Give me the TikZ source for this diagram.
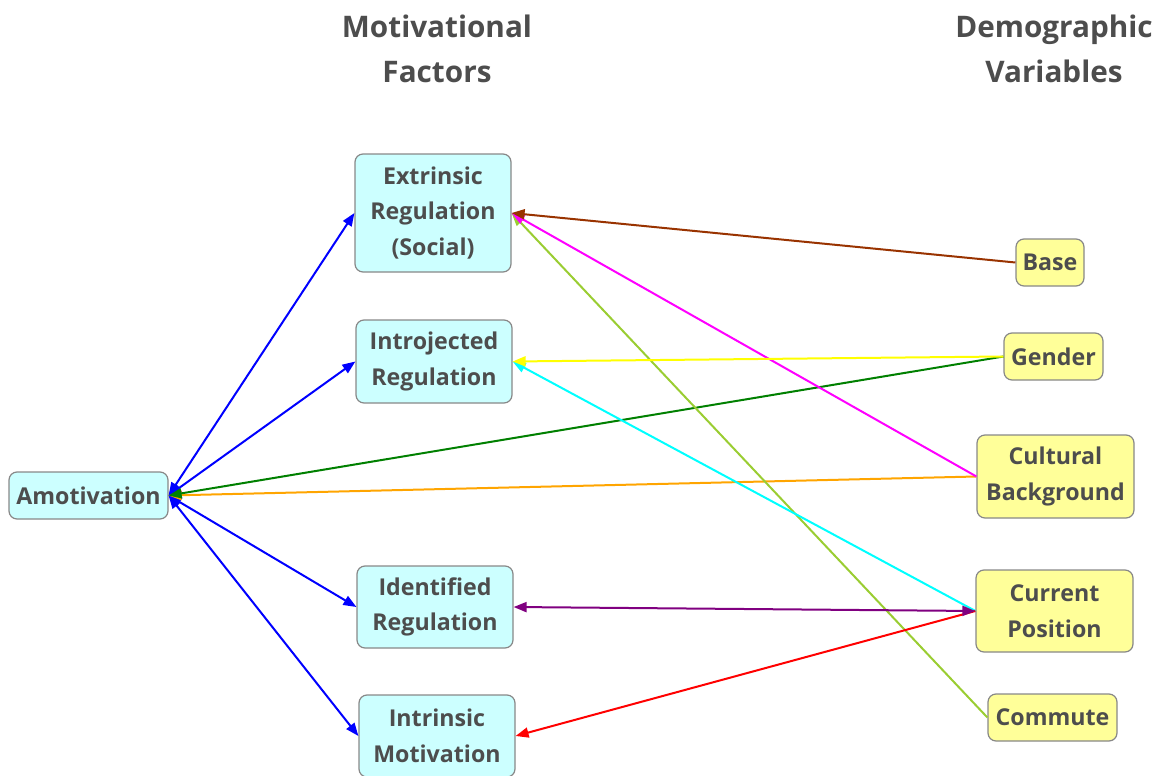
\documentclass[tikz,border=0pt]{standalone}
\usepackage{fontspec}
\setmainfont{Open Sans}
\usetikzlibrary{arrows.meta}
\definecolor{txt}{HTML}{4D4D4D}
\definecolor{bordergray}{HTML}{888888}
\definecolor{cyanfill}{HTML}{CCFFFF}
\definecolor{yellowfill}{HTML}{FFFF99}
\definecolor{brownline}{HTML}{993300}
\definecolor{orangeline}{HTML}{FFA500}
\definecolor{ygline}{HTML}{9ACD32}
\definecolor{greenline}{HTML}{008000}
\definecolor{purpleline}{HTML}{800080}
\definecolor{magline}{HTML}{FF00FF}
\definecolor{cyanline}{HTML}{00FFFF}
\definecolor{yelline}{HTML}{FFFF00}
\definecolor{blueline}{HTML}{0000FF}
\definecolor{redline}{HTML}{FF0000}
\begin{document}
\begin{tikzpicture}[x=1pt,y=-1pt,
  box/.style={draw=bordergray, line width=1.2pt, rounded corners=8pt, align=center,
    font=\fontsize{23.2}{35.5}\selectfont\bfseries, text=txt, inner sep=0pt},
  mf/.style={box, fill=cyanfill},
  dv/.style={box, fill=yellowfill},
  header/.style={align=center, font=\fontsize{29.7}{44.5}\selectfont\bfseries, text=txt, inner sep=0pt},
  link/.style={line width=2pt, -{Triangle[length=13pt,width=10pt]}},
  blink/.style={line width=2pt, {Triangle[length=13pt,width=10pt]}-{Triangle[length=13pt,width=10pt]}}]
\useasboundingbox (0,0) rectangle (1163,776);
% headers
\node[header] (hmf) at (437,49) {Motivational\\Factors};
\node[header] (hdv) at (1054,49) {Demographic\\Variables};
% motivational factors
\node[mf, minimum width=159pt, minimum height=47pt] (amo) at (88.5,495.5) {Amotivation};
\node[mf, minimum width=156pt, minimum height=118pt] (ext) at (433,213) {Extrinsic\\Regulation\\(Social)};
\node[mf, minimum width=156pt, minimum height=83pt] (intro) at (434,361.5) {Introjected\\Regulation};
\node[mf, minimum width=156pt, minimum height=82pt] (ident) at (435,607) {Identified\\Regulation};
\node[mf, minimum width=156pt, minimum height=82pt] (intr) at (437,736) {Intrinsic\\Motivation};
% demographic variables
\node[dv, minimum width=68pt, minimum height=47pt] (base) at (1050,262.5) {Base};
\node[dv, minimum width=99pt, minimum height=47pt] (gend) at (1053.5,356.5) {Gender};
\node[dv, minimum width=157pt, minimum height=83pt] (cult) at (1055.5,476.5) {Cultural\\Background};
\node[dv, minimum width=157pt, minimum height=82pt] (curr) at (1054.5,611) {Current\\Position};
\node[dv, minimum width=129pt, minimum height=47pt] (comm) at (1052.5,717.5) {Commute};
% edges
\draw[blink, blueline] (amo.east) -- (ext.west);
\draw[blink, blueline] (amo.east) -- (intro.west);
\draw[blink, blueline] (amo.east) -- (ident.west);
\draw[blink, blueline] (amo.east) -- (intr.west);
\draw[link, orangeline] (cult.west) -- (amo.east);
\draw[link, greenline] (gend.west) -- (amo.east);
\draw[link, ygline] (comm.west) -- (ext.east);
\draw[link, magline] (cult.west) -- (ext.east);
\draw[link, brownline] (base.west) -- (ext.east);
\draw[link, cyanline] (curr.west) -- (intro.east);
\draw[link, yelline] (gend.west) -- (intro.east);
\draw[link, redline] (curr.west) -- (intr.east);
\draw[blink, purpleline] (ident.east) -- (curr.west);
\end{tikzpicture}
\end{document}
